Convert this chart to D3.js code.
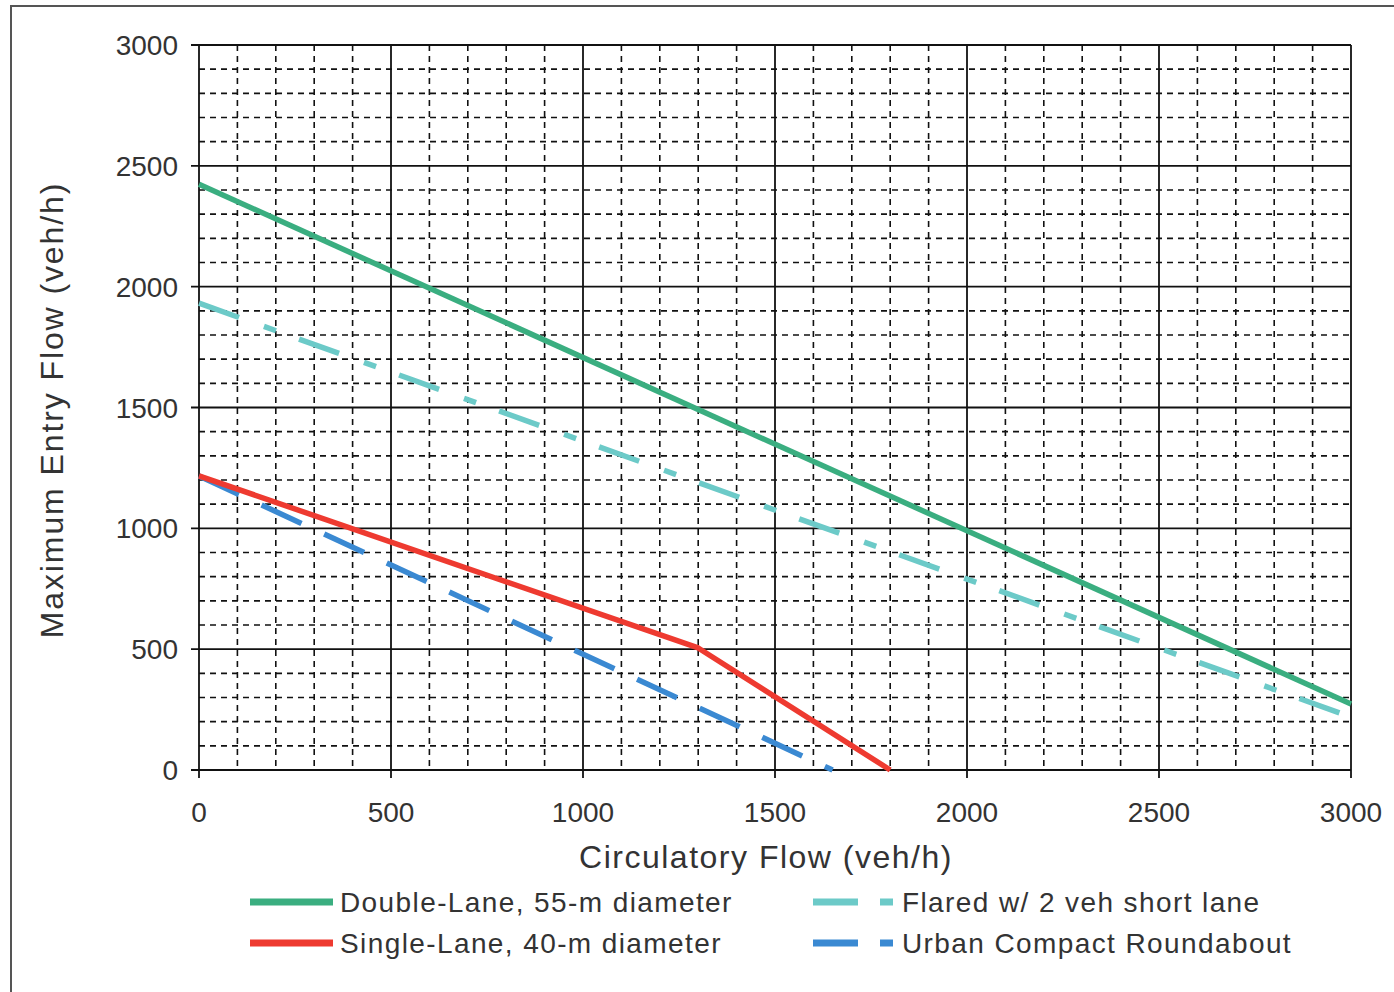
<!DOCTYPE html>
<html lang="en">
<head>
<meta charset="utf-8">
<script src="https://d3js.org/d3.v7.min.js"></script>
<style>
  body { margin: 0; background: #fff; }
  svg text { font-family: "Liberation Sans", Arial, sans-serif; fill: #333; }
</style>
</head>
<body>
<script>
// chart values
var xTicks = [0, 500, 1000, 1500, 2000, 2500, 3000];
var yTicks = [0, 500, 1000, 1500, 2000, 2500, 3000];
var doubleLane = [[0, 2424], [3000, 273]];
var flared = [[0, 1932], [3000, 219]];
var singleLane = [[0, 1217], [1200, 560], [1300, 505], [1800, 0]];
var urbanCompact = [[0, 1217], [1650, 0]];
var seriesNames = ["Double-Lane, 55-m diameter", "Single-Lane, 40-m diameter",
                   "Flared w/ 2 veh short lane", "Urban Compact Roundabout"];

var W = 1394, H = 992;
var pLeft = 199, pRight = 1351, pTop = 45, pBottom = 770;

var svg = d3.select("body").append("svg")
    .attr("width", W).attr("height", H);

// outer frame
svg.append("rect")
    .attr("x", 11).attr("y", 6).attr("width", 1400).attr("height", 1000)
    .attr("fill", "none").attr("stroke", "#555").attr("stroke-width", 2);

var x = d3.scaleLinear().domain([0, 3000]).range([pLeft, pRight]);
var y = d3.scaleLinear().domain([0, 3000]).range([pBottom, pTop]);

// minor grid (every 100)
var minor = d3.range(100, 3000, 100).filter(function(v){ return v % 500 !== 0; });
var grid = svg.append("g");
grid.selectAll(".mx").data(minor).enter().append("line")
    .attr("x1", function(d){ return x(d); }).attr("x2", function(d){ return x(d); })
    .attr("y1", pTop).attr("y2", pBottom)
    .attr("stroke", "#111").attr("stroke-width", 1.6).attr("stroke-dasharray", "6,5");
grid.selectAll(".my").data(minor).enter().append("line")
    .attr("y1", function(d){ return y(d); }).attr("y2", function(d){ return y(d); })
    .attr("x1", pLeft).attr("x2", pRight)
    .attr("stroke", "#111").attr("stroke-width", 1.6).attr("stroke-dasharray", "6,5");

// major grid
grid.selectAll(".Mx").data(xTicks).enter().append("line")
    .attr("x1", function(d){ return x(d); }).attr("x2", function(d){ return x(d); })
    .attr("y1", pTop).attr("y2", pBottom + 8)
    .attr("stroke", "#111").attr("stroke-width", 1.8);
grid.selectAll(".My").data(yTicks).enter().append("line")
    .attr("y1", function(d){ return y(d); }).attr("y2", function(d){ return y(d); })
    .attr("x1", pLeft - 8).attr("x2", pRight)
    .attr("stroke", "#111").attr("stroke-width", 1.8);

// tick labels
svg.selectAll(".xl").data(xTicks).enter().append("text")
    .attr("x", function(d){ return x(d); }).attr("y", 822)
    .attr("text-anchor", "middle").style("font-size", "28px")
    .text(function(d){ return d; });
svg.selectAll(".yl").data(yTicks).enter().append("text")
    .attr("x", 178).attr("y", function(d){ return y(d) + 10; })
    .attr("text-anchor", "end").style("font-size", "28px")
    .text(function(d){ return d; });

// axis titles
svg.append("text")
    .attr("x", 766).attr("y", 868)
    .attr("text-anchor", "middle").style("font-size", "32px")
    .style("letter-spacing", "1.5px")
    .text("Circulatory Flow (veh/h)");
svg.append("text")
    .attr("transform", "translate(63,410) rotate(-90)")
    .attr("text-anchor", "middle").style("font-size", "32px")
    .style("letter-spacing", "1.9px")
    .text("Maximum Entry Flow (veh/h)");

var line = d3.line()
    .x(function(d){ return x(d[0]); })
    .y(function(d){ return y(d[1]); });

var plot = svg.append("g");
plot.append("path").datum(urbanCompact)
    .attr("d", line).attr("fill", "none")
    .attr("stroke", "#3a89d2").attr("stroke-width", 5.5)
    .attr("stroke-dasharray", "44,25");
plot.append("path").datum(flared)
    .attr("d", line).attr("fill", "none")
    .attr("stroke", "#6ccac8").attr("stroke-width", 5.5)
    .attr("stroke-dasharray", "42.5,26.5,12.8,24.5");
plot.append("path").datum(singleLane)
    .attr("d", line).attr("fill", "none")
    .attr("stroke", "#ee3a30").attr("stroke-width", 5.5)
    .attr("stroke-linejoin", "round");
plot.append("path").datum(doubleLane)
    .attr("d", line).attr("fill", "none")
    .attr("stroke", "#3aae80").attr("stroke-width", 5.5);

// legend
var legend = [
  {name: seriesNames[0], color: "#3aae80", dash: null, lx: 250, tx: 340, ty: 902},
  {name: seriesNames[1], color: "#ee3a30", dash: null, lx: 250, tx: 340, ty: 943},
  {name: seriesNames[2], color: "#6ccac8", dash: "45,22,13,100", lx: 813, tx: 902, ty: 902},
  {name: seriesNames[3], color: "#3a89d2", dash: "45,22,13,100", lx: 813, tx: 902, ty: 943}
];
var lg = svg.append("g").selectAll("g").data(legend).enter().append("g");
lg.append("line")
    .attr("x1", function(d){ return d.lx; })
    .attr("x2", function(d){ return d.dash ? d.lx + 80 : d.lx + 83; })
    .attr("y1", function(d){ return d.ty; }).attr("y2", function(d){ return d.ty; })
    .attr("stroke", function(d){ return d.color; }).attr("stroke-width", 7)
    .attr("stroke-dasharray", function(d){ return d.dash; });
lg.append("text")
    .attr("x", function(d){ return d.tx; }).attr("y", function(d){ return d.ty + 10; })
    .style("font-size", "28px")
    .style("letter-spacing", "1.4px")
    .text(function(d){ return d.name; });
</script>
</body>
</html>
